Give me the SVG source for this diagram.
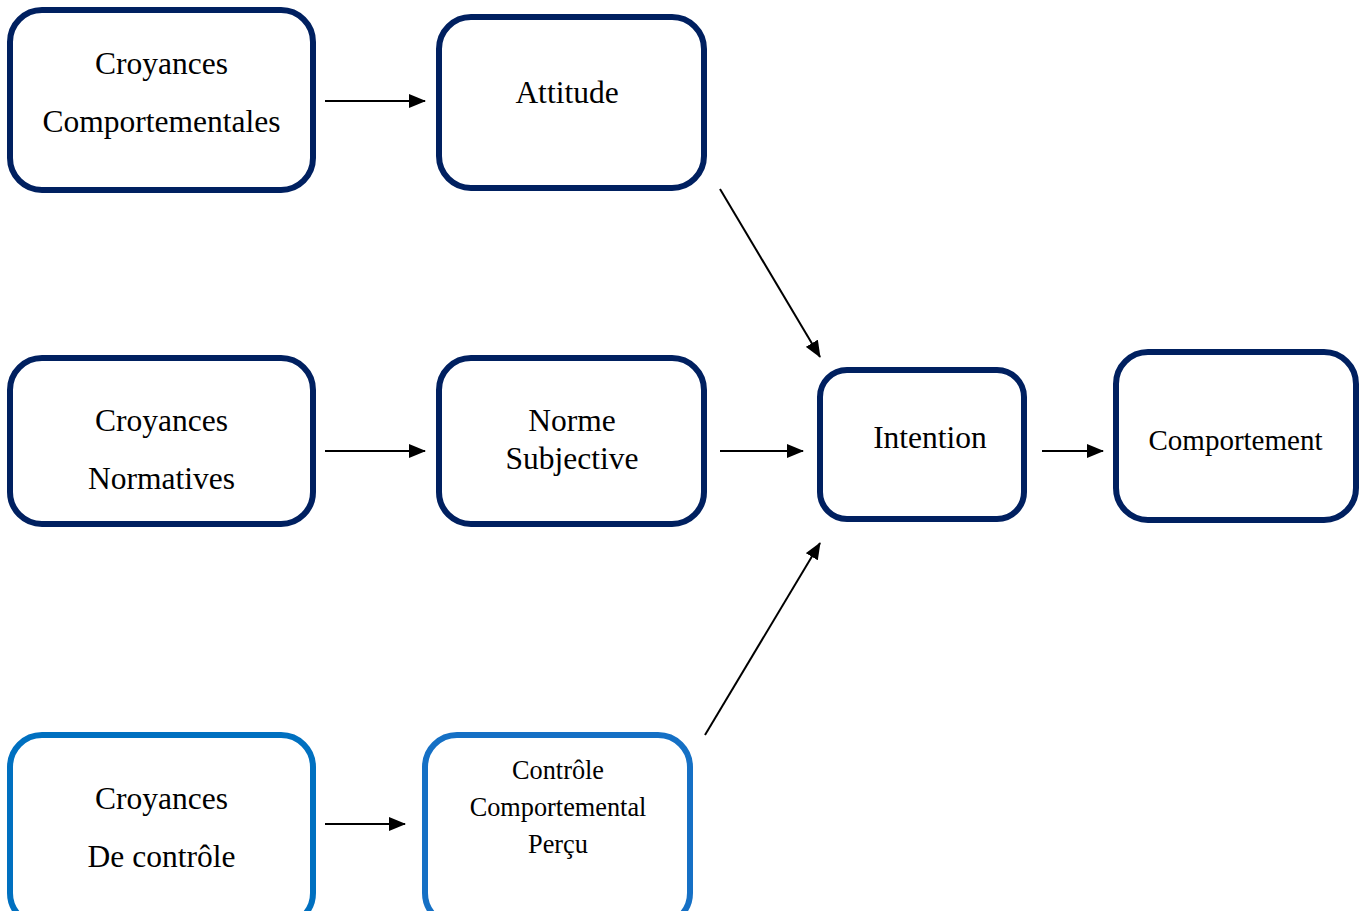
<svg xmlns="http://www.w3.org/2000/svg" width="1367" height="911" viewBox="0 0 1367 911">
<defs>
<marker id="ah" markerWidth="17" markerHeight="14" refX="16" refY="7" orient="auto" markerUnits="userSpaceOnUse">
<path d="M0,0 L17,7 L0,14 Z" fill="#000"/>
</marker>
<style>
.box{fill:#fff;stroke:#002060;stroke-width:6}
.blue{stroke:#0070C0}
.blue2{stroke:#1570C5}
.t{font-family:"Liberation Serif","Times New Roman",serif;fill:#000;text-anchor:middle;font-size:31.5px}
.s29{font-size:29px}
.s26{font-size:26.3px}
.c{stroke:#000;stroke-width:2;fill:none;marker-end:url(#ah)}
</style>
</defs>
<rect width="1367" height="911" fill="#fff"/>
<g id="n1"><rect class="box" x="10" y="10" width="303" height="180" rx="32"/><text class="t" x="161.5" y="74">Croyances</text><text class="t" x="161.5" y="132">Comportementales</text></g>
<g id="n2"><rect class="box" x="439" y="17" width="265" height="171" rx="32"/><text class="t" x="567" y="103">Attitude</text></g>
<g id="n3"><rect class="box" x="10" y="358" width="303" height="166" rx="32"/><text class="t" x="161.5" y="431">Croyances</text><text class="t" x="161.5" y="489">Normatives</text></g>
<g id="n4"><rect class="box" x="439" y="358" width="265" height="166" rx="32"/><text class="t" x="572" y="431">Norme</text><text class="t" x="572" y="469">Subjective</text></g>
<g id="n5"><rect class="box" x="820" y="370" width="204" height="149" rx="27"/><text class="t" x="930" y="448">Intention</text></g>
<g id="n6"><rect class="box" x="1116" y="352" width="240" height="168" rx="32"/><text class="t s29" x="1235.5" y="450">Comportement</text></g>
<g id="n7"><rect class="box blue" x="10" y="735" width="303" height="190" rx="32"/><text class="t" x="161.5" y="809">Croyances</text><text class="t" x="161.5" y="867">De contrôle</text></g>
<g id="n8"><rect class="box blue2" x="425" y="735" width="265" height="190" rx="32"/><text class="t s26" x="558" y="779">Contrôle</text><text class="t s26" x="558" y="816">Comportemental</text><text class="t s26" x="558" y="853">Perçu</text></g>
<g id="connectors">
<line class="c" x1="325" y1="101" x2="425" y2="101"/>
<line class="c" x1="325" y1="451" x2="425" y2="451"/>
<line class="c" x1="325" y1="824" x2="405" y2="824"/>
<line class="c" x1="720" y1="451" x2="803" y2="451"/>
<line class="c" x1="1042" y1="451" x2="1103" y2="451"/>
<line class="c" x1="720" y1="189" x2="820" y2="357"/>
<line class="c" x1="705" y1="735" x2="820" y2="543"/>
</g>
</svg>
